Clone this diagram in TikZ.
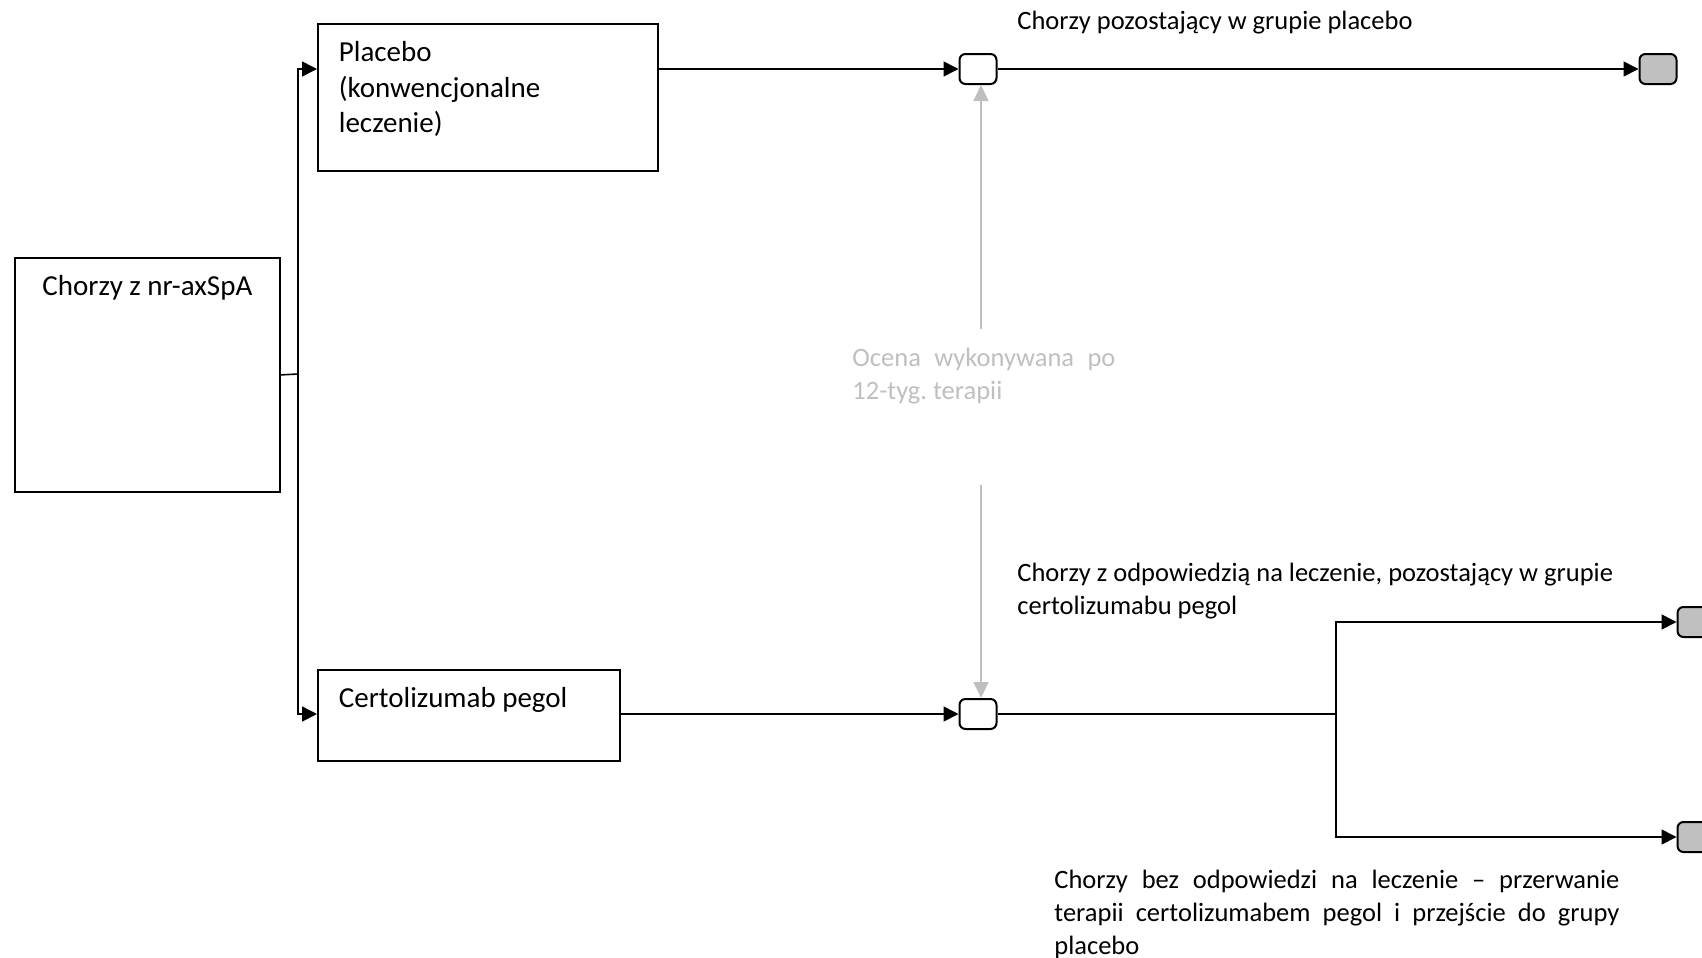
\documentclass[tikz,border=0pt]{standalone}
\usepackage{fontspec}
\setmainfont{Carlito}
\usetikzlibrary{arrows.meta}
\definecolor{szaryT}{HTML}{BFBFBF}
\definecolor{szaryW}{HTML}{C0C0C0}
\newcommand{\wiersz}[2]{\makebox[#1][s]{#2}}
\newcommand{\wpudle}[3]{\parbox[c][#2][t]{#1}{#3}}
\frenchspacing

\begin{document}
\begin{tikzpicture}[x=0.5pt,y=-0.5pt,
    font=\fontsize{13.25pt}{16.5pt}\selectfont,
    >={Triangle[length=7.5pt,width=7.5pt]},
    pudlo/.style={draw,line width=0.9pt,inner sep=0pt,anchor=north west,
                  font=\fontsize{14.5pt}{17.5pt}\selectfont},
    punkt/.style={draw,line width=1pt,rounded corners=3pt,fill=white,
                  minimum width=18.5pt,minimum height=15pt,inner sep=0pt},
    koniec/.style={punkt,fill=szaryW},
    opis/.style={inner sep=0pt,anchor=base west},
    linia/.style={line width=0.8pt},
    szara/.style={line width=0.8pt,szaryT,-{Triangle[length=8pt,width=7.5pt]}}]
  \useasboundingbox (0,0) rectangle (1702,958);
  % pudla z grupami
  \node[pudlo] (chorzy) at (14,257)
    {\wpudle{132.5pt}{117pt}{\centering\rule{0pt}{19pt}Chorzy z nr-axSpA}};
  \node[pudlo] (placebo) at (317,23)
    {\wpudle{170pt}{73.5pt}{\raggedright\leftskip=10.5pt\baselineskip=17.75pt
     \rule{0pt}{19pt}Placebo\\ (konwencjonalne\\ leczenie)}};
  \node[pudlo] (certo) at (317,669)
    {\wpudle{151pt}{45.5pt}{\raggedright\leftskip=10.5pt\rule{0pt}{19pt}Certolizumab pegol}};
  % punkty oceny i konce
  \node[punkt] (ocena1) at (978,69) {};
  \node[punkt] (ocena2) at (978,714) {};
  \node[koniec] (koniec1) at (1658,69) {};
  \node[koniec] (koniec2) at (1696,622) {};
  \node[koniec] (koniec3) at (1696,837) {};
  \coordinate (rozg1) at (298,374);
  \coordinate (rozg2) at (1336,714);
  \coordinate (g1) at (981,329);
  \coordinate (g2) at (981,485);
  % polaczenia
  \draw[linia] (chorzy.east) -- (rozg1);
  \draw[linia,->] (rozg1) |- (placebo.west |- ocena1);
  \draw[linia,->] (rozg1) |- (certo.west |- ocena2);
  \draw[linia,->] (placebo.east |- ocena1) -- (ocena1);
  \draw[linia,->] (certo.east |- ocena2) -- (ocena2);
  \draw[linia,->] (ocena1) -- (koniec1);
  \draw[linia] (ocena2) -- (rozg2);
  \draw[linia,->] (rozg2) |- (koniec2);
  \draw[linia,->] (rozg2) |- (koniec3);
  \draw[szara] (g1) -- (g1 |- ocena1.south);
  \draw[szara] (g2) -- (g2 |- ocena2.north);
  % opisy
  \node[opis,text=szaryT] (ocena) at (852,366)
    {\parbox[t]{131.5pt}{\wiersz{131.5pt}{Ocena wykonywana po}\\12-tyg. terapii}};
  \node[opis] (tekst1) at (1017,29) {Chorzy pozostający w grupie placebo};
  \node[opis] (tekst2) at (1017,581)
    {\parbox[t]{310pt}{Chorzy z odpowiedzią na leczenie, pozostający w grupie\\certolizumabu pegol}};
  \node[opis] (tekst3) at (1054,888)
    {\parbox[t]{282.5pt}{\wiersz{282.5pt}{Chorzy bez odpowiedzi na leczenie – przerwanie}\\
     \wiersz{282.5pt}{terapii certolizumabem pegol i przejście do grupy}\\placebo}};
\end{tikzpicture}
\end{document}
